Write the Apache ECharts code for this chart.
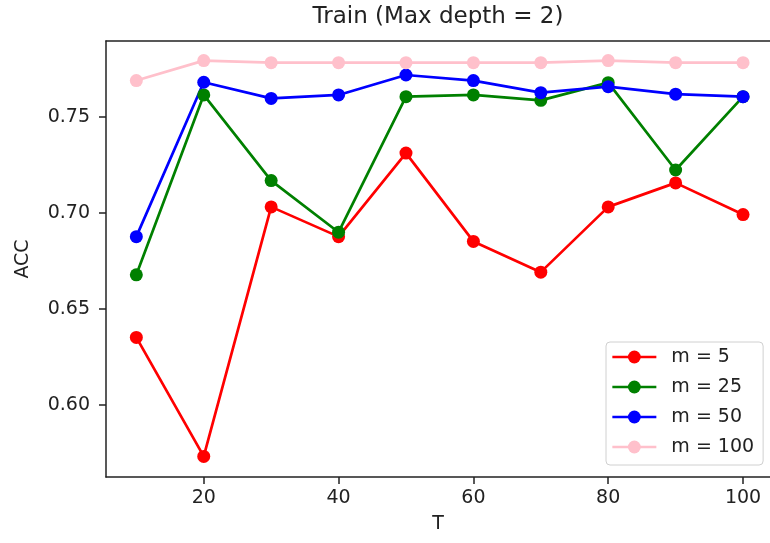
<!DOCTYPE html>
<html>
<head>
<meta charset="utf-8">
<script src="https://cdn.jsdelivr.net/npm/echarts@6/dist/echarts.min.js"></script>
<style>
  html, body { margin: 0; padding: 0; background: #fff; }
  #chart { width: 770px; height: 543px; }
</style>
</head>
<body>
<div id="chart"></div>
<script>
// T values (x axis)
var T = [10, 20, 30, 40, 50, 60, 70, 80, 90, 100];
// ACC per m
var m5 = [0.635, 0.573, 0.703, 0.6875, 0.731, 0.685, 0.669, 0.703, 0.7155, 0.699];
var m25 = [0.6676, 0.7613, 0.7167, 0.6898, 0.7604, 0.7613, 0.7585, 0.7677, 0.7222, 0.7604];
var m50 = [0.6875, 0.7679, 0.7595, 0.7613, 0.7717, 0.7688, 0.7625, 0.7656, 0.7617, 0.7604];
var m100 = [0.7688, 0.7792, 0.7781, 0.7781, 0.7781, 0.7781, 0.7781, 0.7792, 0.7781, 0.7781];
var seriesNames = ['m = 5', 'm = 25', 'm = 50', 'm = 100'];
// tick labels
var xTicks = [20, 40, 60, 80, 100];
var yTicks = [0.60, 0.65, 0.70, 0.75];

var colors = ['#ff0000', '#008000', '#0000ff', '#ffc0cb'];
var font = 'DejaVu Sans';

function pairs(ys) {
  return T.map(function (t, i) { return [t, ys[i]]; });
}

function makeSeries(name, ys, color) {
  return {
    name: name,
    type: 'line',
    data: pairs(ys),
    symbol: 'circle',
    symbolSize: 13,
    showAllSymbol: true,
    itemStyle: { color: color },
    lineStyle: { color: color, width: 2.7 },
    emphasis: { disabled: true }
  };
}

var chart = echarts.init(document.getElementById('chart'));
chart.setOption({
  animation: false,
  backgroundColor: '#fff',
  textStyle: { fontFamily: font },
  graphic: [
    {
      type: 'text',
      x: 438,
      y: 6,
      style: {
        text: 'Train (Max depth = 2)',
        font: '23px "DejaVu Sans"',
        fill: '#222',
        align: 'center',
        verticalAlign: 'top'
      }
    }
  ],
  grid: { left: 106, right: 0, top: 41, bottom: 66 },
  legend: {
    orient: 'vertical',
    left: 606,
    top: 342,
    data: seriesNames,
    itemWidth: 44,
    itemHeight: 16,
    itemGap: 10,
    padding: [5, 9, 8, 5],
    backgroundColor: 'rgba(255,255,255,0.8)',
    borderColor: '#d0d0d0',
    borderWidth: 1,
    borderRadius: 4,
    selectedMode: false,
    lineStyle: { width: 2.7 },
    textStyle: { fontFamily: font, fontSize: 19, color: '#222', lineHeight: 20, padding: [0, 0, 0, 10] }
  },
  xAxis: [
    {
      type: 'value',
      min: 5.5,
      max: 104,
      name: 'T',
      nameLocation: 'middle',
      nameGap: 38,
      nameTextStyle: { fontFamily: font, fontSize: 19, color: '#222' },
      splitLine: { show: false },
      axisLine: { show: true, onZero: false, lineStyle: { color: '#222', width: 1.5 } },
      axisTick: { show: true, length: 7, customValues: xTicks, lineStyle: { color: '#222', width: 1.5 } },
      axisLabel: { customValues: xTicks, margin: 12, fontFamily: font, fontSize: 19, color: '#222' }
    },
    {
      type: 'value',
      position: 'top',
      min: 0,
      max: 1,
      splitLine: { show: false },
      axisLine: { show: true, onZero: false, lineStyle: { color: '#222', width: 1.5 } },
      axisTick: { show: false },
      axisLabel: { show: false }
    }
  ],
  yAxis: {
    type: 'value',
    min: 0.5623,
    max: 0.7894,
    name: 'ACC',
    nameLocation: 'middle',
    nameGap: 73,
    nameTextStyle: { fontFamily: font, fontSize: 19, color: '#222' },
    splitLine: { show: false },
    axisLine: { show: true, onZero: false, lineStyle: { color: '#222', width: 1.5 } },
    axisTick: { show: true, length: 7, customValues: yTicks, lineStyle: { color: '#222', width: 1.5 } },
    axisLabel: {
      customValues: yTicks,
      margin: 16,
      fontFamily: font,
      fontSize: 19,
      color: '#222',
      formatter: function (v) { return v.toFixed(2); }
    }
  },
  series: [
    makeSeries(seriesNames[0], m5, colors[0]),
    makeSeries(seriesNames[1], m25, colors[1]),
    makeSeries(seriesNames[2], m50, colors[2]),
    makeSeries(seriesNames[3], m100, colors[3])
  ]
});
</script>
</body>
</html>
